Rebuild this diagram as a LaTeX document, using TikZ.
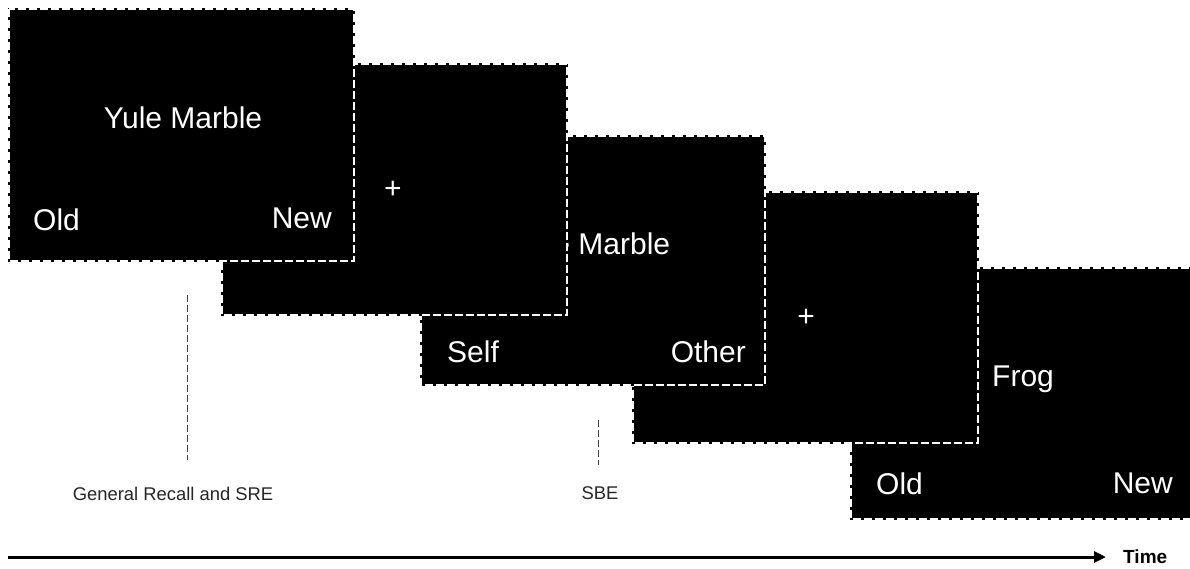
\documentclass[tikz,border=0pt]{standalone}
\usepackage{fontspec}
\setmainfont{Liberation Sans}
\usetikzlibrary{arrows.meta}
\tikzset{
  screen/.style={fill=black, draw=black, line width=2pt},
  screenedge/.style={draw=white, line width=2pt, dash pattern=on 8pt off 3pt},
  big/.style={text=white, inner sep=0pt, font=\fontsize{30}{36}\selectfont},
  small/.style={text=black!85, inner sep=0pt, font=\fontsize{18.4}{22}\selectfont},
  marker/.style={draw=black!75, line width=1pt, dash pattern=on 7pt off 3pt},
  timeline/.style={draw=black, line width=3pt, -{Triangle[length=12pt,width=11pt]}}
}
\begin{document}
\begin{tikzpicture}[x=1pt,y=-1pt]
\useasboundingbox (0,0) rectangle (1190,568);
\clip (0,0) rectangle (1190,568);
\fill[white] (0,0) rectangle (1190,568);

% screen 5 (back)
\path[screen] (851,268) rectangle (1198,519);
\draw[screenedge] (851,268) rectangle (1198,519);
\node[big, anchor=base west] (frog) at (992,386) {Frog};
\node[big, anchor=base west] (old2) at (876,494) {Old};
\node[big, anchor=base east] (new2) at (1173,493) {New};

% screen 4
\path[screen] (633,192) rectangle (978,443);
\draw[screenedge] (633,192) rectangle (978,443);
\node[big] (fix2) at (806,318) {+};

% screen 3
\path[screen] (421,136) rectangle (765,385);
\draw[screenedge] (421,136) rectangle (765,385);
\node[big, anchor=base] (word2) at (591,254) {Yule Marble};
\node[big, anchor=base west] (self) at (447,362) {Self};
\node[big, anchor=base east] (other) at (746,362) {Other};

% screen 2
\path[screen] (222,64) rectangle (567,315);
\draw[screenedge] (222,64) rectangle (567,315);
\node[big] (fix1) at (393,190) {+};

% screen 1 (front)
\path[screen] (9,9) rectangle (354,261);
\draw[screenedge] (9,9) rectangle (354,261);
\node[big, anchor=base] (word1) at (183,128) {Yule Marble};
\node[big, anchor=base west] (old1) at (33,230) {Old};
\node[big, anchor=base east] (new1) at (332,228) {New};

% markers
\coordinate (m1top) at (187,295);
\coordinate (m1bot) at (187,460);
\draw[marker] (m1top) -- (m1bot);
\coordinate (m2top) at (598,420);
\coordinate (m2bot) at (598,465);
\draw[marker] (m2top) -- (m2bot);
\node[small, anchor=base] (lab1) at (173,500) {General Recall and SRE};
\node[small, anchor=base] (lab2) at (600,499) {SBE};

% time axis
\coordinate (tstart) at (8,557);
\coordinate (tend) at (1106,557);
\draw[timeline] (tstart) -- (tend);
\node[inner sep=0pt, anchor=base west, font=\fontsize{19}{23}\selectfont\bfseries] (time) at (1123,563) {Time};
\end{tikzpicture}
\end{document}
